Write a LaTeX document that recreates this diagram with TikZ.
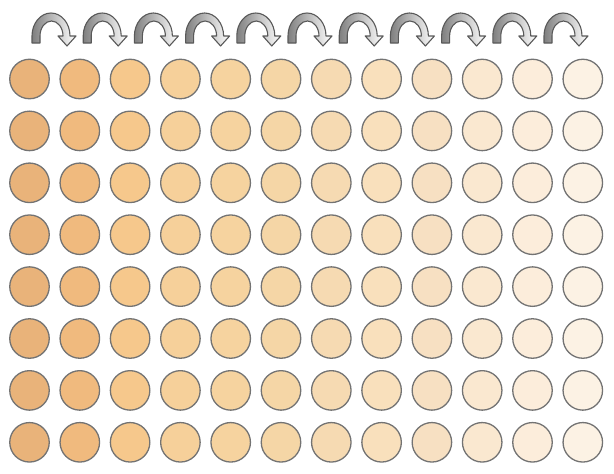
\documentclass[tikz,border=0pt]{standalone}
\begin{document}
\begin{tikzpicture}[x=1pt,y=1pt,
  dot/.style={circle,draw=black!55,line width=1.3pt,minimum size=39.5pt,inner sep=0pt},
  curvarrow/.style={draw=black!65,line width=1.1pt,line join=round,left color=black!50,right color=white}]
\useasboundingbox (0,0) rectangle (614,-474);
\definecolor{c1}{RGB}{233,179,122}
\definecolor{c2}{RGB}{240,186,126}
\definecolor{c3}{RGB}{246,200,140}
\definecolor{c4}{RGB}{246,208,154}
\definecolor{c5}{RGB}{246,211,159}
\definecolor{c6}{RGB}{245,214,166}
\definecolor{c7}{RGB}{246,218,178}
\definecolor{c8}{RGB}{249,224,188}
\definecolor{c9}{RGB}{247,224,194}
\definecolor{c10}{RGB}{250,232,208}
\definecolor{c11}{RGB}{252,237,219}
\definecolor{c12}{RGB}{252,242,228}
\foreach \c in {1,...,12}{
  \foreach \r in {1,...,8}{
    \node[dot,fill=c\c] (n\c-\r) at ({29.5+50.3*(\c-1)},{-(79+51.9*(\r-1))}) {};
  }
}
\foreach \i in {0,...,10}{
  \begin{scope}[xshift={51.2*\i}]
    \path[curvarrow] (32,-43) -- (32,-36) arc[start angle=180,end angle=0,x radius=19pt,y radius=23pt]
      -- (76,-36) -- (67,-46) -- (58,-36) -- (63,-36)
      arc[start angle=0,end angle=180,x radius=11.5pt,y radius=15pt] -- (40,-43) -- cycle;
  \end{scope}
}
\end{tikzpicture}
\end{document}
